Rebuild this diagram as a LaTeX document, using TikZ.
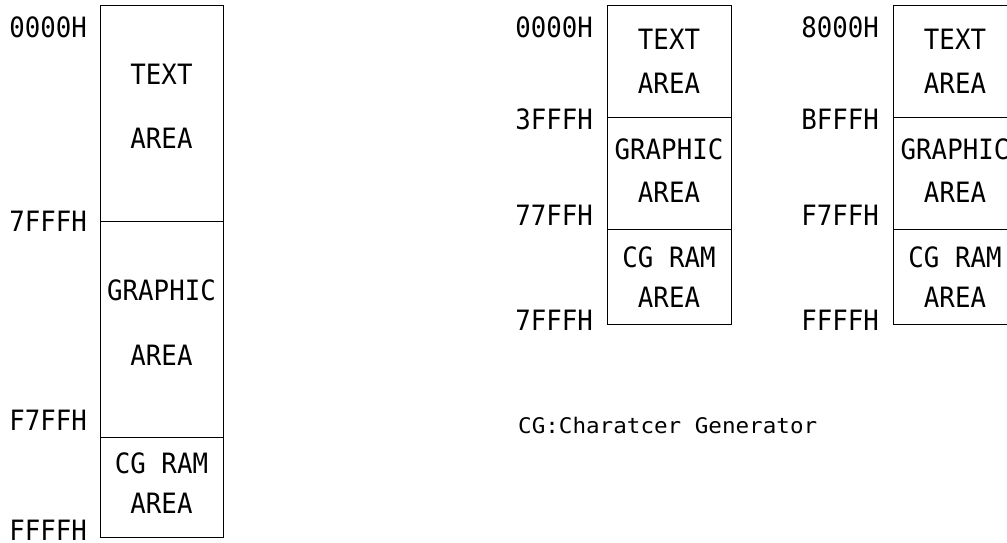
\documentclass[tikz,border=0pt]{standalone}
\usepackage{fontspec}
\newfontfamily\memfont{DejaVu Sans Mono}[FakeStretch=0.92]
\newfontfamily\notefont{DejaVu Sans Mono}[FakeStretch=1.05]

\begin{document}
\begin{tikzpicture}[
    x=1pt, y=-1pt,
    region/.style={draw, line width=1.1pt, inner sep=0pt, anchor=north west},
    lbl/.style={font=\memfont\fontsize{28}{34}\selectfont, align=center, inner sep=0pt},
    addr/.style={font=\memfont\fontsize{28}{34}\selectfont, anchor=east, inner sep=0pt},
    note/.style={font=\notefont\fontsize{21.5}{26}\selectfont, anchor=west, inner sep=0pt}
]
\useasboundingbox (0,0) rectangle (1007,542);

% 64K map
\node[region, minimum width=123pt, minimum height=216pt] (atext) at (100,5) {};
\node[region, minimum width=123pt, minimum height=216pt] (agraph) at (100,221) {};
\node[region, minimum width=123pt, minimum height=100pt] (acg) at (100,437) {};
\node[lbl] (atextl) at (161.5,106) {TEXT\\[30pt]AREA};
\node[lbl] (agraphl) at (161.5,322.5) {GRAPHIC\\[31pt]AREA};
\node[lbl] (acgl) at (161.5,483) {CG RAM\\[6pt]AREA};
\node[addr] (a0) at (87,27) {0000H};
\node[addr] (a1) at (87,221) {7FFFH};
\node[addr] (a2) at (87,420) {F7FFH};
\node[addr] (a3) at (87,530) {FFFFH};

% first 32K bank
\node[region, minimum width=124pt, minimum height=112pt] (btext) at (607,5) {};
\node[region, minimum width=124pt, minimum height=112pt] (bgraph) at (607,117) {};
\node[region, minimum width=124pt, minimum height=95pt] (bcg) at (607,229) {};
\node[lbl] (btextl) at (669,61) {TEXT\\[10pt]AREA};
\node[lbl] (bgraphl) at (669,170.5) {GRAPHIC\\[9pt]AREA};
\node[lbl] (bcgl) at (669,277) {CG RAM\\[6pt]AREA};
\node[addr] (b0) at (593,27) {0000H};
\node[addr] (b1) at (593,119) {3FFFH};
\node[addr] (b2) at (593,215) {77FFH};
\node[addr] (b3) at (593,320) {7FFFH};

% second 32K bank
\node[region, minimum width=124pt, minimum height=112pt] (ctext) at (893,5) {};
\node[region, minimum width=124pt, minimum height=112pt] (cgraph) at (893,117) {};
\node[region, minimum width=124pt, minimum height=95pt] (ccg) at (893,229) {};
\node[lbl] (ctextl) at (955,61) {TEXT\\[10pt]AREA};
\node[lbl] (cgraphl) at (955,170.5) {GRAPHIC\\[9pt]AREA};
\node[lbl] (ccgl) at (955,277) {CG RAM\\[6pt]AREA};
\node[addr] (c0) at (879,27) {8000H};
\node[addr] (c1) at (879,119) {BFFFH};
\node[addr] (c2) at (879,215) {F7FFH};
\node[addr] (c3) at (879,320) {FFFFH};

\node[note] (cgnote) at (518,425) {CG:Charatcer Generator};
\end{tikzpicture}
\end{document}
